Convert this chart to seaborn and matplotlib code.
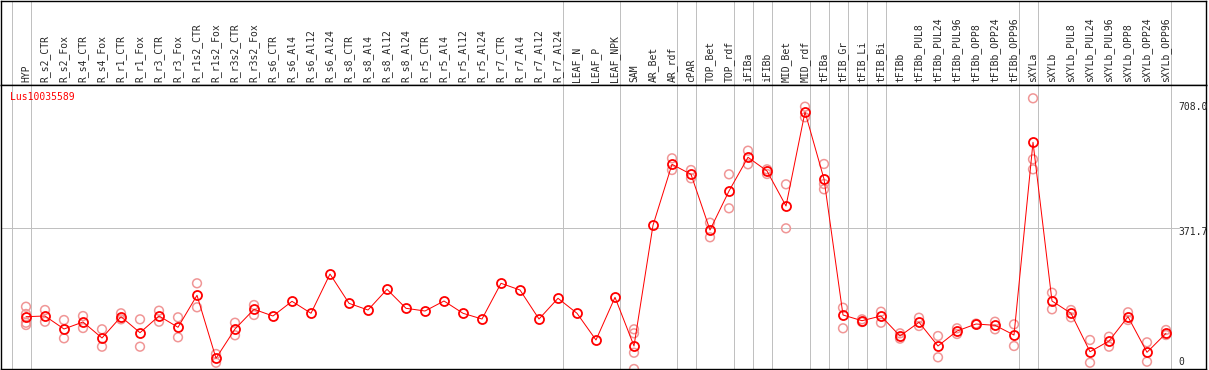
import numpy as np
import pandas as pd
import matplotlib
matplotlib.use("Agg")
import matplotlib.pyplot as plt
import matplotlib.transforms as mtransforms
import seaborn as sns


gene = "Lus10035589"

samples = ["HYP", "R_s2_CTR", "R_s2_Fox", "R_s4_CTR", "R_s4_Fox", "R_r1_CTR", "R_r1_Fox",
           "R_r3_CTR", "R_r3_Fox", "R_r1s2_CTR", "R_r1s2_Fox", "R_r3s2_CTR", "R_r3s2_Fox",
           "R_s6_CTR", "R_s6_Al4", "R_s6_Al12", "R_s6_Al24", "R_s8_CTR", "R_s8_Al4",
           "R_s8_Al12", "R_s8_Al24", "R_r5_CTR", "R_r5_Al4", "R_r5_Al12", "R_r5_Al24",
           "R_r7_CTR", "R_r7_Al4", "R_r7_Al12", "R_r7_Al24", "LEAF_N", "LEAF_P", "LEAF_NPK",
           "SAM", "AR_Bet", "AR_rdf", "cPAR", "TOP_Bet", "TOP_rdf", "iFIBa", "iFIBb",
           "MID_Bet", "MID_rdf", "tFIBa", "tFIB_Gr", "tFIB_Li", "tFIB_Bi", "tFIBb",
           "tFIBb_PUL8", "tFIBb_PUL24", "tFIBb_PUL96", "tFIBb_OPP8", "tFIBb_OPP24",
           "tFIBb_OPP96", "sXYLa", "sXYLb", "sXYLb_PUL8", "sXYLb_PUL24", "sXYLb_PUL96",
           "sXYLb_OPP8", "sXYLb_OPP24", "sXYLb_OPP96"]

means = [142.3, 144.1, 110.5, 128.6, 87.2, 142.3, 100.9, 144.1, 114.9, 197.6, 34.7,
         110.5, 161.4, 144.1, 182.1, 151.1, 252.7, 176.9, 159.6, 213.1, 164.0, 157.0,
         182.9, 151.1, 136.3, 228.7, 211.3, 136.3, 189.9, 151.1, 82.0, 192.5,
         66.5, 378.7, 536.5, 510.6, 366.5, 467.4, 554.6, 519.2, 428.6, 671.8, 498.5,
         146.7, 131.9, 144.1, 92.3, 127.8, 66.5, 105.3, 123.4, 120.0, 94.9,
         593.4, 182.9, 151.1, 51.7, 79.4, 142.3, 50.2, 99.3]

replicates = {
    "HYP": [168.1, 149.3, 126.7, 120.8],
    "R_s2_CTR": [159.6, 129.3],
    "R_s2_Fox": [133.7, 86.4],
    "R_s4_CTR": [144.0, 113.0],
    "R_s4_Fox": [109.7, 64.7],
    "R_r1_CTR": [151.1, 135.5],
    "R_r1_Fox": [135.5, 64.7],
    "R_r3_CTR": [157.8, 129.3],
    "R_r3_Fox": [140.7, 89.0],
    "R_r1s2_CTR": [228.7, 166.6],
    "R_r1s2_Fox": [45.8, 23.3],
    "R_r3s2_CTR": [126.7, 94.2],
    "R_r3s2_Fox": [172.5, 146.7],
    "SAM": [109.7, 99.3, 49.1, 7.0],
    "AR_rdf": [552.0, 521.7],
    "cPAR": [521.7, 500.3],
    "TOP_Bet": [385.4, 347.7],
    "TOP_rdf": [510.6, 422.7],
    "iFIBa": [571.7, 536.5],
    "iFIBb": [523.5, 511.4],
    "MID_Bet": [484.7, 370.9],
    "MID_rdf": [685.5, 658.1],
    "tFIBa": [537.3, 485.5, 471.8],
    "tFIB_Gr": [165.5, 112.3],
    "tFIB_Li": [135.5, 128.5],
    "tFIB_Bi": [155.2, 126.7],
    "tFIBb": [99.3, 85.5],
    "tFIBb_PUL8": [139.7, 118.2],
    "tFIBb_PUL24": [92.3, 37.2],
    "tFIBb_PUL96": [112.3, 97.5],
    "tFIBb_OPP8": [124.5, 122.3],
    "tFIBb_OPP24": [129.3, 109.7],
    "tFIBb_OPP96": [122.6, 66.5],
    "sXYLa": [707.2, 549.4, 523.5],
    "sXYLb": [204.3, 161.4],
    "sXYLb_PUL8": [159.6, 140.7],
    "sXYLb_PUL24": [82.0, 23.3],
    "sXYLb_PUL96": [90.5, 64.7],
    "sXYLb_OPP8": [153.7, 133.7],
    "sXYLb_OPP24": [76.0, 25.9],
    "sXYLb_OPP96": [107.9, 94.9],
}

# gray group lines come after these sample indices
group_ends = [-1, 0, 28, 31, 34, 35, 37, 38, 39, 41, 42, 43, 44, 45, 52, 53, 60]

y_ticks = ["708.0", "371.7", "0"]
mid_line = 371.7


sns.set_style("white")
plt.rcParams["font.family"] = ["DejaVu Sans Mono", "DejaVu Sans"]

red = "#ff0000"
pink = "#f09696"
gray = "#c0c0c0"
lw = 0.72

pos = np.arange(len(samples))
df_mean = pd.DataFrame({"pos": pos, "value": means})
rep_rows = [(samples.index(k), v) for k, vals in replicates.items() for v in vals]
df_rep = pd.DataFrame(rep_rows, columns=["pos", "value"])

W, H = 1209, 370
fig = plt.figure(figsize=(W / 100, H / 100), dpi=100)
left = 1 / W
width = 1204.5 / W
ax_h = fig.add_axes([left, (H - 85) / H, width, 84.5 / H])
ax = fig.add_axes([left, (H - 368.5) / H, width, 283.5 / H], sharex=ax_h)

ax.set_xlim((1 - 26) / 19, (1205.5 - 26) / 19)
ax.set_ylim(8.3, 741.6)
ax_h.set_ylim(0, 1)

for a in (ax, ax_h):
    for s in a.spines.values():
        s.set_visible(True)
        s.set_color("black")
        s.set_linewidth(1.0)
    a.tick_params(left=False, bottom=False, labelleft=False, labelbottom=False)
    for g in group_ends:
        a.axvline(g + 0.237, color=gray, lw=lw, zorder=0)

ax.axhline(mid_line, xmax=(1179 - 1) / 1204.5, color=gray, lw=lw, zorder=0)

sns.scatterplot(data=df_rep, x="pos", y="value", ax=ax, marker="o", s=40,
                facecolors="none", edgecolors=pink, linewidths=1.1, zorder=2, legend=False)
sns.lineplot(data=df_mean, x="pos", y="value", ax=ax, color=red, linewidth=lw,
             marker="o", markersize=6.5, markerfacecolor="none", markeredgecolor=red,
             markeredgewidth=1.3, zorder=3)
ax.set_xlabel("")
ax.set_ylabel("")

trans_h = mtransforms.blended_transform_factory(ax_h.transData, ax_h.transAxes)
for i, name in enumerate(samples):
    ax_h.text(i, 0.03, name, rotation=90, ha="center", va="bottom",
              fontsize=7, transform=trans_h)

trans_y = mtransforms.blended_transform_factory(ax.transAxes, ax.transData)
for lab, yv in zip(y_ticks, [685.5, 360.6, 25.9]):
    ax.text(0.9776, yv, lab, ha="left", va="center", fontsize=7, transform=trans_y)

ax.text(0.0075, 0.958, gene, color=red, ha="left", va="center", fontsize=7,
        transform=ax.transAxes)

fig.savefig("out.png", dpi=100)
